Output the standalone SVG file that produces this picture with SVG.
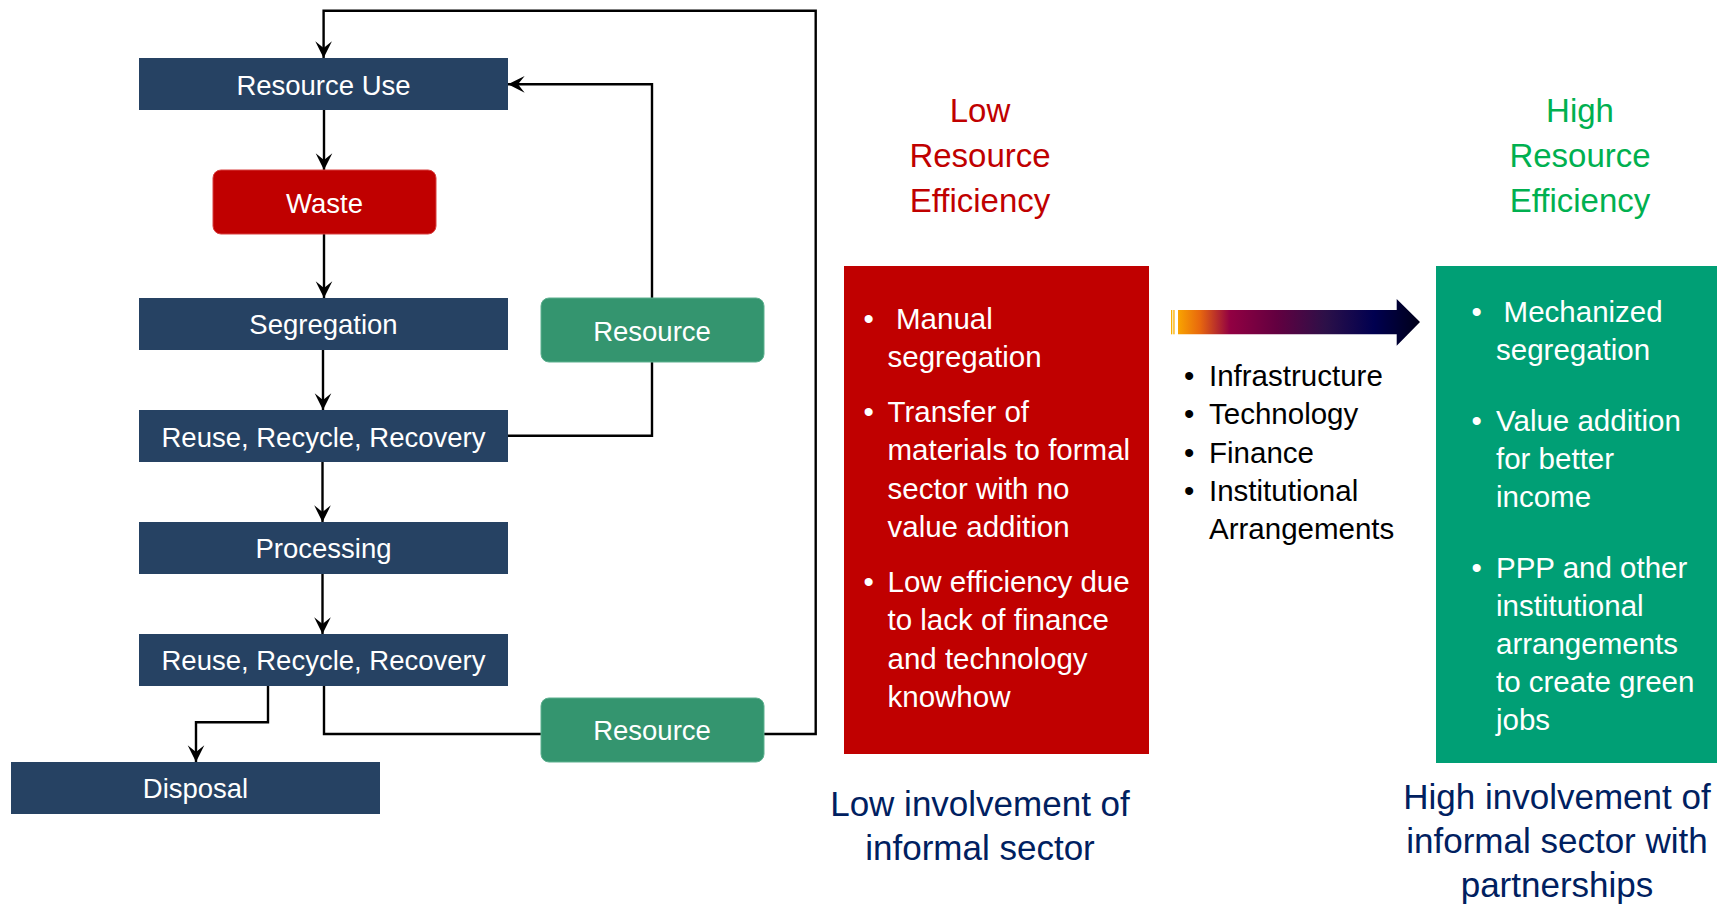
<svg xmlns="http://www.w3.org/2000/svg" width="1717" height="905" viewBox="0 0 1717 905">
<style>
text{font-family:"Liberation Sans",Arial,sans-serif}
.nav{fill:#264263}
.lbl{fill:#fff;font-size:27.5px;text-anchor:middle}
.res{fill:#34956F;stroke:#5DB08F;stroke-width:1}
.con{fill:none;stroke:#000;stroke-width:2.4}
.hd{font-size:33px;text-anchor:middle}
.bt{fill:#fff;font-size:29.5px}
.mid{fill:#000;font-size:29.5px}
.bot{fill:#002060;font-size:35px;text-anchor:middle}
</style>
<defs>
<marker id="ah" markerUnits="userSpaceOnUse" markerWidth="20" markerHeight="20" viewBox="-16 -9 18 18" refX="0" refY="0" orient="auto">
<path d="M0,0 L-15,-7.5 L-9,0 L-15,7.5 Z" fill="#000"/>
</marker>
<linearGradient id="grad" gradientUnits="userSpaceOnUse" x1="1178" y1="0" x2="1420" y2="0">
<stop offset="0" stop-color="#F9A400"/>
<stop offset="0.09" stop-color="#E8680E"/>
<stop offset="0.215" stop-color="#920042"/>
<stop offset="0.41" stop-color="#620040"/>
<stop offset="0.61" stop-color="#2C1048"/>
<stop offset="0.81" stop-color="#000050"/>
<stop offset="1" stop-color="#000018"/>
</linearGradient>
</defs>
<rect width="1717" height="905" fill="#fff"/>

<g id="connectors">
<path class="con" d="M764,734 H815.7 V10.7 H323.6 V58" marker-end="url(#ah)"/>
<path class="con" d="M324,110 V170" marker-end="url(#ah)"/>
<path class="con" d="M324,234 V298" marker-end="url(#ah)"/>
<path class="con" d="M323,350 V410" marker-end="url(#ah)"/>
<path class="con" d="M508,435.7 H652 V362"/>
<path class="con" d="M652,298 V84.3 H508" marker-end="url(#ah)"/>
<path class="con" d="M322.5,462 V522" marker-end="url(#ah)"/>
<path class="con" d="M322.5,574 V634" marker-end="url(#ah)"/>
<path class="con" d="M268,686 V722.3 H196 V762" marker-end="url(#ah)"/>
<path class="con" d="M324,686 V734 H541"/>
</g>

<g id="resource-use"><rect class="nav" x="139" y="58" width="369" height="52"/><text class="lbl" x="323.5" y="94.5">Resource Use</text></g>
<g id="waste"><rect x="213" y="170" width="223" height="64" rx="8" fill="#C00000" stroke="#D84040" stroke-width="1"/><text class="lbl" x="324.5" y="212.5">Waste</text></g>
<g id="segregation"><rect class="nav" x="139" y="298" width="369" height="52"/><text class="lbl" x="323.5" y="334">Segregation</text></g>
<g id="resource-1"><rect class="res" x="541" y="298" width="223" height="64" rx="8"/><text class="lbl" x="652" y="340.5">Resource</text></g>
<g id="rrr-1"><rect class="nav" x="139" y="410" width="369" height="52"/><text class="lbl" x="323.5" y="446.5">Reuse, Recycle, Recovery</text></g>
<g id="processing"><rect class="nav" x="139" y="522" width="369" height="52"/><text class="lbl" x="323.5" y="558">Processing</text></g>
<g id="rrr-2"><rect class="nav" x="139" y="634" width="369" height="52"/><text class="lbl" x="323.5" y="670">Reuse, Recycle, Recovery</text></g>
<g id="disposal"><rect class="nav" x="11" y="762" width="369" height="52"/><text class="lbl" x="195.5" y="798">Disposal</text></g>
<g id="resource-2"><rect class="res" x="541" y="698" width="223" height="64" rx="8"/><text class="lbl" x="652" y="740">Resource</text></g>

<g id="low-heading">
<text class="hd" x="980" y="121.7" fill="#C00000">Low</text>
<text class="hd" x="980" y="166.7" fill="#C00000">Resource</text>
<text class="hd" x="980" y="211.7" fill="#C00000">Efficiency</text>
</g>
<g id="high-heading">
<text class="hd" x="1580" y="121.7" fill="#00B050">High</text>
<text class="hd" x="1580" y="166.7" fill="#00B050">Resource</text>
<text class="hd" x="1580" y="211.7" fill="#00B050">Efficiency</text>
</g>

<g id="low-box">
<rect x="844" y="266" width="305" height="488" fill="#C00000"/>
<text class="bt" x="863.5" y="328.5">•</text>
<text class="bt" x="896" y="328.5">Manual</text>
<text class="bt" x="887.5" y="367">segregation</text>
<text class="bt" x="863.5" y="422">•</text>
<text class="bt" x="887.5" y="422">Transfer of</text>
<text class="bt" x="887.5" y="460">materials to formal</text>
<text class="bt" x="887.5" y="498.5">sector with no</text>
<text class="bt" x="887.5" y="537">value addition</text>
<text class="bt" x="863.5" y="592">•</text>
<text class="bt" x="887.5" y="592">Low efficiency due</text>
<text class="bt" x="887.5" y="630">to lack of finance</text>
<text class="bt" x="887.5" y="668.5">and technology</text>
<text class="bt" x="887.5" y="707">knowhow</text>
</g>

<g id="transition-arrow">
<rect x="1171" y="310" width="1.3" height="24.3" fill="#F9B000"/>
<rect x="1173.3" y="310" width="1.3" height="24.3" fill="#F9B000"/>
<path d="M1178,310 H1396.7 V299 L1420,322 L1396.7,345.7 V334.3 H1178 Z" fill="url(#grad)"/>
</g>

<g id="enablers">
<text class="mid" x="1184" y="386">•</text><text class="mid" x="1209" y="386">Infrastructure</text>
<text class="mid" x="1184" y="424">•</text><text class="mid" x="1209" y="424">Technology</text>
<text class="mid" x="1184" y="462.5">•</text><text class="mid" x="1209" y="462.5">Finance</text>
<text class="mid" x="1184" y="501">•</text><text class="mid" x="1209" y="501">Institutional</text>
<text class="mid" x="1209" y="539">Arrangements</text>
</g>

<g id="high-box">
<rect x="1436" y="266" width="281" height="497" fill="#009F75"/>
<text class="bt" x="1471.5" y="322">•</text>
<text class="bt" x="1503.6" y="322">Mechanized</text>
<text class="bt" x="1496" y="360">segregation</text>
<text class="bt" x="1471.5" y="430.5">•</text>
<text class="bt" x="1496" y="430.5">Value addition</text>
<text class="bt" x="1496" y="468.5">for better</text>
<text class="bt" x="1496" y="507">income</text>
<text class="bt" x="1471.5" y="577.5">•</text>
<text class="bt" x="1496" y="577.5">PPP and other</text>
<text class="bt" x="1496" y="615.5">institutional</text>
<text class="bt" x="1496" y="653.5">arrangements</text>
<text class="bt" x="1496" y="692">to create green</text>
<text class="bt" x="1496" y="730">jobs</text>
</g>

<g id="low-caption">
<text class="bot" x="980" y="816">Low involvement of</text>
<text class="bot" x="980" y="859.5">informal sector</text>
</g>
<g id="high-caption">
<text class="bot" x="1557" y="809">High involvement of</text>
<text class="bot" x="1557" y="853">informal sector with</text>
<text class="bot" x="1557" y="897">partnerships</text>
</g>
</svg>
